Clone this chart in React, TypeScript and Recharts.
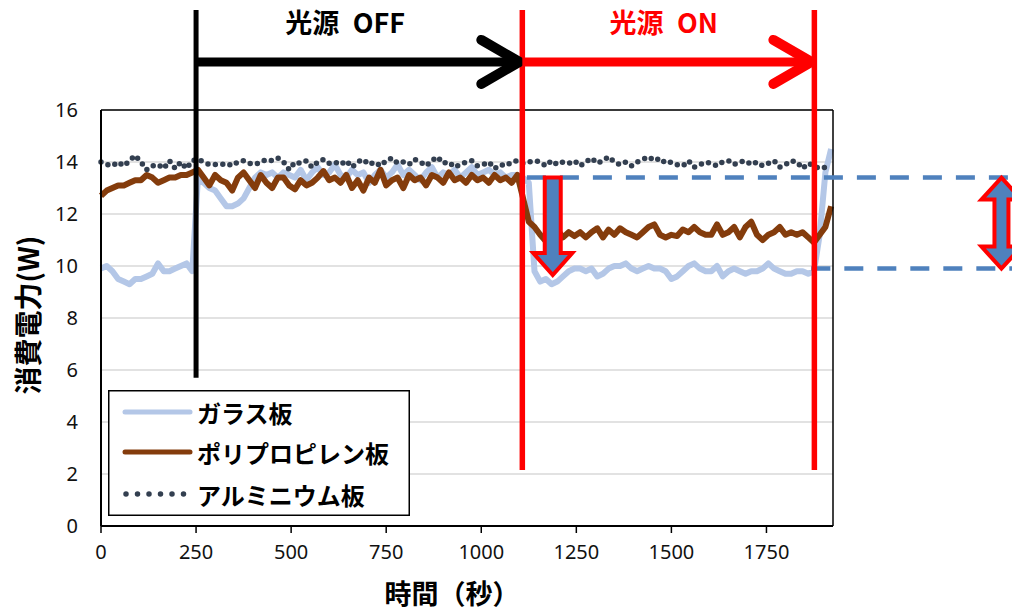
import React from 'react';
import {
  LineChart,
  Line,
  XAxis,
  YAxis,
  CartesianGrid,
  ReferenceLine,
  ReferenceDot,
  Legend,
} from 'recharts';

// ---- data (time in seconds, power in W) ----
const times = [
  0, 15, 30, 45, 60, 75, 90, 105, 120, 135,
  150, 165, 180, 195, 210, 225, 240, 255, 270, 285,
  300, 315, 330, 345, 360, 375, 390, 405, 420, 435,
  450, 465, 480, 495, 510, 525, 540, 555, 570, 585,
  600, 615, 630, 645, 660, 675, 690, 705, 720, 735,
  750, 765, 780, 795, 810, 825, 840, 855, 870, 885,
  900, 915, 930, 945, 960, 975, 990, 1005, 1020, 1035,
  1050, 1065, 1080, 1095, 1110, 1125, 1140, 1155, 1170, 1185,
  1200, 1215, 1230, 1245, 1260, 1275, 1290, 1305, 1320, 1335,
  1350, 1365, 1380, 1395, 1410, 1425, 1440, 1455, 1470, 1485,
  1500, 1515, 1530, 1545, 1560, 1575, 1590, 1605, 1620, 1635,
  1650, 1665, 1680, 1695, 1710, 1725, 1740, 1755, 1770, 1785,
  1800, 1815, 1830, 1845, 1860, 1875, 1890, 1905, 1920,
];

const glassPlate = [
  9.9, 10.0, 9.8, 9.5, 9.4, 9.3, 9.5, 9.5, 9.6, 9.7,
  10.1, 9.8, 9.8, 9.9, 10.0, 10.1, 9.8, 13.4, 13.2, 13.0,
  12.9, 12.6, 12.3, 12.3, 12.4, 12.6, 13.0, 13.4, 13.6, 13.5,
  13.6, 13.4, 13.6, 13.5, 13.4, 13.7, 13.3, 13.6, 13.8, 13.5,
  13.6, 13.9, 13.5, 13.4, 13.7, 13.5, 13.6, 13.2, 13.5, 13.7,
  13.4, 13.6, 13.9, 13.5, 13.7, 13.5, 13.3, 13.6, 13.8, 13.4,
  13.6, 13.5, 13.7, 13.4, 13.6, 13.8, 13.5, 13.6, 13.7, 13.5,
  13.6, 13.4, 13.5, 13.5, 13.4, 13.2, 9.8, 9.4, 9.5, 9.3,
  9.4, 9.6, 9.8, 9.9, 9.9, 9.8, 9.9, 9.6, 9.7, 9.9,
  10.0, 10.0, 10.1, 9.9, 9.8, 9.9, 10.0, 9.9, 9.9, 9.8,
  9.5, 9.6, 9.8, 10.0, 10.1, 9.9, 9.8, 9.8, 10.0, 9.6,
  9.8, 9.9, 9.8, 9.7, 9.8, 9.8, 9.9, 10.1, 9.9, 9.8,
  9.7, 9.7, 9.8, 9.8, 9.7, 9.8, 11.2, 13.6, 14.5,
];

const polypropylenePlate = [
  12.7, 12.9, 13.0, 13.1, 13.1, 13.2, 13.3, 13.3, 13.5, 13.4,
  13.2, 13.3, 13.4, 13.4, 13.5, 13.5, 13.6, 13.7, 13.4, 13.1,
  13.5, 13.3, 13.2, 12.9, 13.4, 13.6, 13.3, 13.0, 13.5, 13.2,
  13.0, 13.4, 13.4, 13.1, 12.95, 13.3, 13.1, 13.2, 13.4, 13.65,
  13.3, 13.4, 13.2, 13.5, 13.0, 13.3, 12.9, 13.4, 13.2, 13.7,
  13.1, 13.3, 13.4, 13.0, 13.5, 13.3, 13.4, 13.1, 13.5, 13.4,
  13.2, 13.6, 13.3, 13.4, 13.2, 13.5, 13.3, 13.4, 13.2, 13.5,
  13.3, 13.4, 13.2, 13.5, 12.6, 11.7, 11.5, 11.2, 10.95, 11.3,
  11.4, 11.1, 11.3, 11.15, 11.3, 11.1, 11.3, 11.45, 11.1, 11.4,
  11.2, 11.45, 11.3, 11.2, 11.1, 11.3, 11.5, 11.6, 11.2, 11.1,
  11.2, 11.15, 11.4, 11.3, 11.5, 11.3, 11.2, 11.2, 11.6, 11.2,
  11.3, 11.5, 11.1, 11.5, 11.7, 11.2, 11.0, 11.2, 11.3, 11.5,
  11.2, 11.3, 11.2, 11.3, 11.1, 10.9, 11.2, 11.5, 12.3,
];

const aluminumPlate = [
  14.0, 13.9, 13.85, 14.0, 13.85, 14.05, 14.25, 14.0, 13.7, 13.85,
  13.9, 13.75, 14.05, 13.75, 14.0, 13.75, 14.05, 14.1, 14.0, 13.9,
  13.9, 13.9, 13.95, 13.85, 14.0, 14.05, 13.95, 13.9, 14.0, 14.1,
  14.05, 14.15, 14.0, 13.7, 14.0, 13.95, 14.05, 13.8, 14.0, 14.1,
  13.95, 14.0, 13.9, 14.05, 13.8, 14.0, 14.1, 13.9, 14.0, 13.85,
  14.05, 14.15, 13.95, 14.0, 13.9, 14.1, 14.0, 13.85, 14.05, 14.2,
  13.95, 14.0, 13.8, 13.9, 14.0, 14.05, 13.85, 13.9, 14.0, 13.75,
  13.9, 13.85, 14.0, 14.05, 13.95, 14.0, 14.05, 14.0, 13.85, 14.05,
  13.9, 14.0, 13.95, 14.05, 13.85, 14.0, 14.15, 13.95, 14.05, 14.2,
  14.0, 13.9, 14.0, 13.85, 14.0, 14.1, 14.2, 14.05, 14.15, 13.95,
  14.0, 13.9, 13.85, 14.05, 13.8, 13.9, 14.0, 13.95, 13.85, 14.0,
  14.05, 13.9, 14.0, 14.05, 13.9, 14.0, 13.85, 13.95, 14.05, 13.8,
  13.9, 14.05, 14.0, 13.75, 13.95, 13.85, 13.75, 13.8, 13.85,
];

const seriesKeys = ['glass', 'pp', 'al'];
const seriesNames = ['ガラス板', 'ポリプロピレン板', 'アルミニウム板'];
const xTicks = [0, 250, 500, 750, 1000, 1250, 1500, 1750];
const yTicks = [0, 2, 4, 6, 8, 10, 12, 14, 16];
const xTitle = '時間（秒）';
const yTitle = '消費電力(W)';
const offLabel = '光源\u2002OFF';
const onLabel = '光源\u2002ON';

// annotation anchors in data units (seconds / watts)
const lightOffAt = 250;
const lightOnAt = 1108;
const lightEndAt = 1876;
const xMax = 1925;
const beyondRight = 2400;
const doubleArrowAt = 2368;
const dropArrowAt = 1188;
const levelOff = 13.4;
const levelOn = 9.9;
const lineTop = 19.85;
const blackLineBottom = 5.7;
const redLineBottom = 2.15;
const arrowLevel = 17.85;
const labelLevel = 19.4;

const data = times.map((t, i) => ({
  t,
  glass: glassPlate[i],
  pp: polypropylenePlate[i],
  al: aluminumPlate[i],
}));

const COLORS = {
  glass: '#B4C7E7',
  pp: '#843C0C',
  al: '#333F50',
  red: '#FF0000',
  blue: '#4F81BD',
};

const CJK = "'Noto Sans CJK JP', 'Noto Sans', sans-serif";
const NUM = "'Noto Sans', 'Liberation Sans', sans-serif";

// ---- custom shapes ----
const ChevronArrow = (color: string) => (p: any) => {
  const { x1, y1, x2 } = p;
  const y = y1;
  const tip = x2 - 3;
  return (
    <g>
      <line x1={x1} y1={y} x2={tip - 2} y2={y} stroke={color} strokeWidth={9} />
      <polyline
        points={`${tip - 38},${y - 22} ${tip},${y} ${tip - 38},${y + 22}`}
        fill="none"
        stroke={color}
        strokeWidth={10}
        strokeLinecap="round"
        strokeLinejoin="round"
      />
    </g>
  );
};

const DownBlockArrow = (p: any) => {
  const { x1, y1, y2 } = p;
  const cx = x1;
  const sw = 8;
  const hw = 19.5;
  const hl = 22;
  const pts = [
    [cx - sw, y1],
    [cx + sw, y1],
    [cx + sw, y2 - hl],
    [cx + hw, y2 - hl],
    [cx, y2],
    [cx - hw, y2 - hl],
    [cx - sw, y2 - hl],
  ]
    .map((q) => q.join(','))
    .join(' ');
  return <polygon points={pts} fill={COLORS.blue} stroke={COLORS.red} strokeWidth={4} />;
};

const DoubleBlockArrow = (p: any) => {
  const { x1, y1, y2 } = p;
  const cx = x1;
  const sw = 7;
  const hw = 20;
  const hl = 22;
  const pts = [
    [cx, y1],
    [cx + hw, y1 + hl],
    [cx + sw, y1 + hl],
    [cx + sw, y2 - hl],
    [cx + hw, y2 - hl],
    [cx, y2],
    [cx - hw, y2 - hl],
    [cx - sw, y2 - hl],
    [cx - sw, y1 + hl],
    [cx - hw, y1 + hl],
  ]
    .map((q) => q.join(','))
    .join(' ');
  return <polygon points={pts} fill={COLORS.blue} stroke={COLORS.red} strokeWidth={4} />;
};

const TextMark = (text: string, color: string) => (p: any) => (
  <text
    x={p.cx}
    y={p.cy}
    textAnchor="middle"
    dominantBaseline="central"
    fill={color}
    fontFamily={CJK}
    fontWeight={700}
    fontSize={27}
    style={{ whiteSpace: 'pre' }}
  >
    {text}
  </text>
);

const legendRows = [22, 62, 104];
const legendStyle: Record<string, any> = {
  glass: { color: COLORS.glass, dash: undefined },
  pp: { color: COLORS.pp, dash: undefined },
  al: { color: COLORS.al, dash: '0 11.5' },
};

const LegendBox = (props: any) => {
  const items = [...(props.payload || [])].sort(
    (a: any, b: any) => seriesKeys.indexOf(String(a.dataKey)) - seriesKeys.indexOf(String(b.dataKey))
  );
  return (
    <svg width={302} height={126} style={{ display: 'block' }}>
      <rect x={0.75} y={0.75} width={300.5} height={124.5} fill="#fff" stroke="#000" strokeWidth={1.5} />
      {items.map((it: any, i: number) => {
        const st = legendStyle[it.dataKey] || { color: it.color };
        const cy = legendRows[i];
        return (
          <g key={String(it.dataKey)}>
            <line
              x1={st.dash ? 18 : 17}
              y1={cy}
              x2={st.dash ? 76 : 82}
              y2={cy}
              stroke={st.color}
              strokeWidth={st.dash ? 5.5 : 5}
              strokeLinecap="round"
              strokeDasharray={st.dash}
            />
            <text
              x={89}
              y={cy}
              dominantBaseline="central"
              fontFamily={CJK}
              fontWeight={700}
              fontSize={24}
              fill="#000"
            >
              {it.value}
            </text>
          </g>
        );
      })}
    </svg>
  );
};

const XTitle = (p: any) => {
  const vb = p.viewBox;
  return (
    <text
      x={vb.x + vb.width / 2 - 15}
      y={vb.y + vb.height - 20}
      textAnchor="middle"
      dominantBaseline="central"
      fontFamily={CJK}
      fontWeight={700}
      fontSize={27}
      fill="#000"
    >
      {xTitle}
    </text>
  );
};

const YTitle = (p: any) => {
  const vb = p.viewBox;
  const x = vb.x + 27;
  const y = vb.y + vb.height / 2 - 3;
  return (
    <text
      x={x}
      y={y}
      transform={`rotate(-90, ${x}, ${y})`}
      textAnchor="middle"
      dominantBaseline="central"
      fontFamily={CJK}
      fontWeight={700}
      fontSize={28}
      fill="#000"
    >
      {yTitle}
    </text>
  );
};

export default function App() {
  return (
    <div style={{ position: 'absolute', left: 0, top: 0, width: 1012, height: 612, background: '#fff' }}>
      <LineChart
        width={1012}
        height={612}
        data={data}
        margin={{ top: 110, right: 179, bottom: 0, left: 0 }}
      >
        <CartesianGrid horizontal vertical={false} stroke="#D9D9D9" strokeWidth={1.5} />
        <XAxis
          dataKey="t"
          type="number"
          domain={[0, xMax]}
          ticks={xTicks}
          height={86}
          tickSize={7}
          tickMargin={12}
          axisLine={{ stroke: '#000', strokeWidth: 2 }}
          tickLine={{ stroke: '#000', strokeWidth: 1.5 }}
          tick={{ fill: '#111', fontSize: 20, fontFamily: NUM }}
          label={<XTitle />}
        />
        <YAxis
          type="number"
          domain={[0, 16]}
          ticks={yTicks}
          width={101}
          tickSize={0}
          tickMargin={23}
          tickLine={false}
          axisLine={{ stroke: '#000', strokeWidth: 2 }}
          tick={{ fill: '#111', fontSize: 20, fontFamily: NUM }}
          label={<YTitle />}
        />
        <Line
          dataKey="glass"
          name={seriesNames[0]}
          stroke={COLORS.glass}
          strokeWidth={6}
          dot={false}
          activeDot={false}
          isAnimationActive={false}
          strokeLinejoin="round"
        />
        <Line
          dataKey="pp"
          name={seriesNames[1]}
          stroke={COLORS.pp}
          strokeWidth={6}
          dot={false}
          activeDot={false}
          isAnimationActive={false}
          strokeLinejoin="round"
        />
        <Line
          dataKey="al"
          name={seriesNames[2]}
          stroke={COLORS.al}
          strokeWidth={5.5}
          strokeDasharray="0 7.5"
          strokeLinecap="round"
          dot={false}
          activeDot={false}
          isAnimationActive={false}
        />
        {/* plot frame (top, right) */}
        <ReferenceLine y={16} stroke="#000" strokeWidth={1.5} ifOverflow="visible" />
        <ReferenceLine x={xMax} stroke="#000" strokeWidth={1.5} ifOverflow="visible" />

        {/* blue dashed level lines */}
        <ReferenceLine
          segment={[{ x: 1120, y: levelOff }, { x: beyondRight, y: levelOff }]}
          stroke={COLORS.blue}
          strokeWidth={4.5}
          strokeDasharray="19 14"
          ifOverflow="visible"
        />
        <ReferenceLine
          segment={[{ x: 1868, y: levelOn }, { x: beyondRight, y: levelOn }]}
          stroke={COLORS.blue}
          strokeWidth={4.5}
          strokeDasharray="19 14"
          ifOverflow="visible"
        />

        {/* light-source markers */}
        <ReferenceLine
          segment={[{ x: lightOffAt, y: lineTop }, { x: lightOffAt, y: blackLineBottom }]}
          stroke="#000"
          strokeWidth={5}
          ifOverflow="visible"
        />
        <ReferenceLine
          segment={[{ x: lightOnAt, y: lineTop }, { x: lightOnAt, y: redLineBottom }]}
          stroke={COLORS.red}
          strokeWidth={5.5}
          ifOverflow="visible"
        />
        <ReferenceLine
          segment={[{ x: lightEndAt, y: lineTop }, { x: lightEndAt, y: redLineBottom }]}
          stroke={COLORS.red}
          strokeWidth={5.5}
          ifOverflow="visible"
        />
        <ReferenceLine
          segment={[{ x: lightOffAt, y: arrowLevel }, { x: lightOnAt, y: arrowLevel }]}
          shape={ChevronArrow('#000')}
          ifOverflow="visible"
        />
        <ReferenceLine
          segment={[{ x: lightOnAt, y: arrowLevel }, { x: lightEndAt, y: arrowLevel }]}
          shape={ChevronArrow(COLORS.red)}
          ifOverflow="visible"
        />
        <ReferenceDot x={642} y={labelLevel} r={0} ifOverflow="visible" shape={TextMark(offLabel, '#000')} />
        <ReferenceDot x={1480} y={labelLevel} r={0} ifOverflow="visible" shape={TextMark(onLabel, COLORS.red)} />

        {/* block arrows */}
        <ReferenceLine
          segment={[{ x: dropArrowAt, y: levelOff }, { x: dropArrowAt, y: 9.65 }]}
          shape={DownBlockArrow}
          ifOverflow="visible"
        />
        <ReferenceLine
          segment={[{ x: doubleArrowAt, y: levelOff }, { x: doubleArrowAt, y: levelOn }]}
          shape={DoubleBlockArrow}
          ifOverflow="visible"
        />

        <Legend
          layout="vertical"
          align="center"
          verticalAlign="middle"
          wrapperStyle={{ left: 108, top: 390, width: 302, height: 126 }}
          content={<LegendBox />}
        />
      </LineChart>
    </div>
  );
}
